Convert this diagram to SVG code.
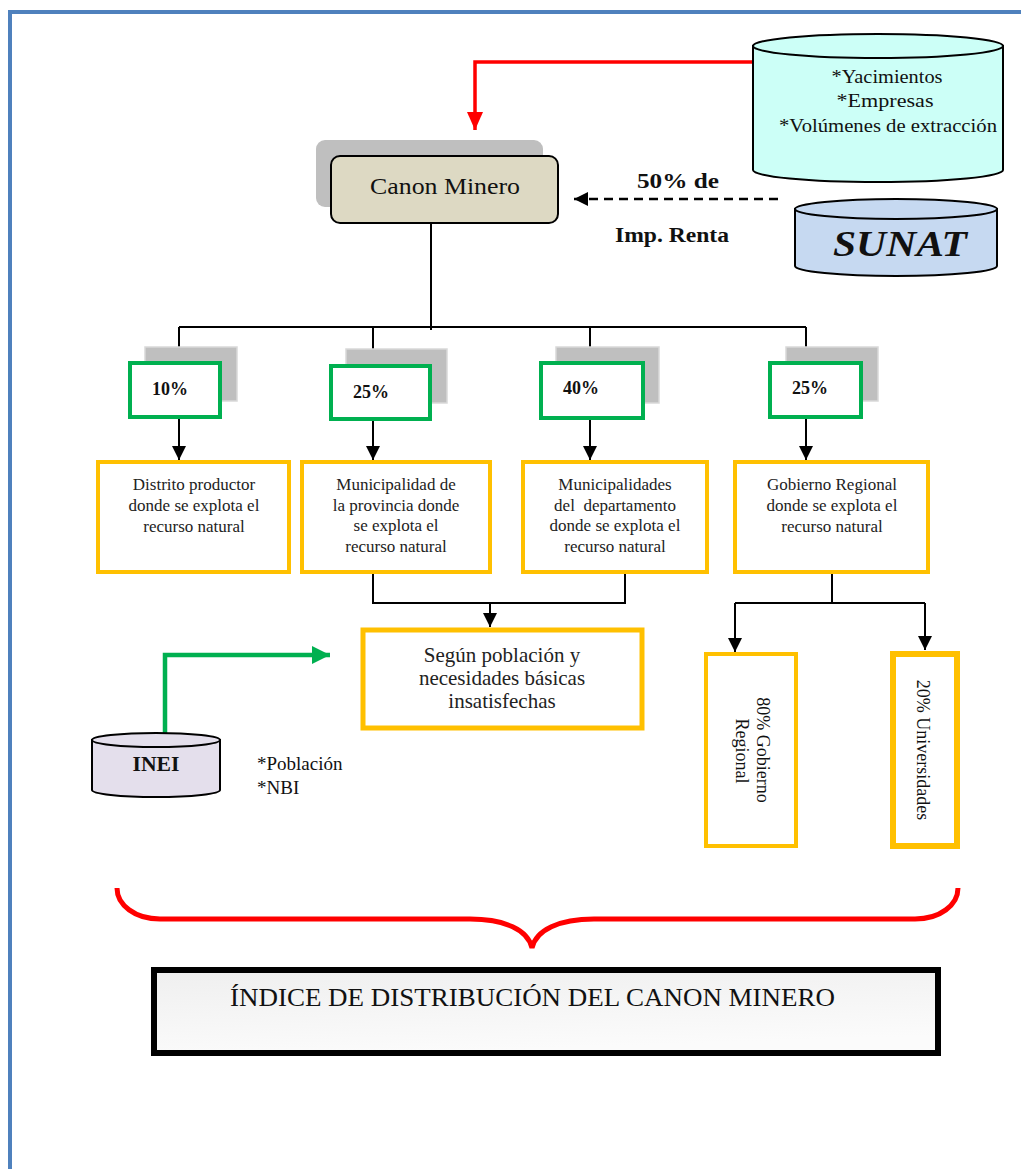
<svg xmlns="http://www.w3.org/2000/svg" width="1021" height="1169" viewBox="0 0 1021 1169">
<style>
.t{font-family:"Liberation Serif","Times New Roman",serif;fill:#111}
.b{font-weight:bold}
.pct{font-family:"Liberation Serif",serif;font-weight:bold;font-size:18px;fill:#111}
.yb{fill:#fff;stroke:#FFC000;stroke-width:4}
.gb{fill:#fff;stroke:#00B050;stroke-width:4}
.sh{fill:#BFBFBF;stroke:#D9D9D9;stroke-width:1.5}
.ln{fill:none;stroke:#000;stroke-width:2}
.lt{font-family:"Liberation Serif",serif;font-size:17px;fill:#222;text-anchor:middle}
.lt2{font-family:"Liberation Serif",serif;font-size:21px;fill:#222;text-anchor:middle}
</style>
<defs>
<marker id="ab" markerUnits="userSpaceOnUse" markerWidth="16" markerHeight="16" refX="14" refY="7" orient="auto"><path d="M0,0 L14,7 L0,14 Z" fill="#000"/></marker>
<marker id="ag" markerUnits="userSpaceOnUse" markerWidth="16" markerHeight="16" refX="14" refY="7" orient="auto"><path d="M0,0 L14,7 L0,14 Z" fill="#404040"/></marker>
<marker id="ar" markerUnits="userSpaceOnUse" markerWidth="20" markerHeight="18" refX="18" refY="8" orient="auto"><path d="M0,0 L18,8 L0,16 Z" fill="#FF0000"/></marker>
<marker id="agr" markerUnits="userSpaceOnUse" markerWidth="20" markerHeight="20" refX="18" refY="9" orient="auto"><path d="M0,0 L18,9 L0,18 Z" fill="#00B050"/></marker>
<marker id="ad" markerUnits="userSpaceOnUse" markerWidth="16" markerHeight="16" refX="14" refY="7" orient="auto"><path d="M0,0 L14,7 L0,14 Z" fill="#000"/></marker>
<linearGradient id="gr" x1="0" y1="0" x2="0.3" y2="1"><stop offset="0" stop-color="#EFEFEF"/><stop offset="1" stop-color="#FBFBFB"/></linearGradient>
</defs>
<rect x="0" y="0" width="1021" height="1169" fill="#fff"/>
<path d="M10,1169 L10,12 L1021,12" fill="none" stroke="#4F81BD" stroke-width="4"/>

<g id="connectors">
<path d="M753,62 L475,62 L475,130" fill="none" stroke="#FF0000" stroke-width="3.5" marker-end="url(#ar)"/>
<path d="M778,199 L574,199" fill="none" stroke="#000" stroke-width="2.5" stroke-dasharray="9,6" marker-end="url(#ad)"/>
<path class="ln" d="M431,223 L431,330"/>
<path class="ln" d="M179,327 L806,327"/>
<path class="ln" d="M179,327 L179,363" marker-end="url(#ag)"/>
<path class="ln" d="M373,327 L373,366" marker-end="url(#ag)"/>
<path class="ln" d="M590,327 L590,363" marker-end="url(#ag)"/>
<path class="ln" d="M806,327 L806,363" marker-end="url(#ag)"/>
<path class="ln" d="M179,417 L179,460" marker-end="url(#ab)"/>
<path class="ln" d="M373,419 L373,460" marker-end="url(#ab)"/>
<path class="ln" d="M590,418 L590,460" marker-end="url(#ab)"/>
<path class="ln" d="M806,417 L806,460" marker-end="url(#ab)"/>
<path class="ln" d="M373,572 L373,603 L625,603 L625,572"/>
<path class="ln" d="M490,603 L490,627" marker-end="url(#ab)"/>
<path class="ln" d="M832,572 L832,603"/>
<path class="ln" d="M735,603 L925,603"/>
<path class="ln" d="M735,603 L735,652" marker-end="url(#ab)"/>
<path class="ln" d="M925,603 L925,650" marker-end="url(#ab)"/>
<path d="M165,733 L165,655 L330,655" fill="none" stroke="#00B050" stroke-width="4.5" marker-end="url(#agr)"/>
</g>

<g id="yacimientos">
<path d="M753,46 L753,170 A125,12 0 0 0 1003,170 L1003,46 Z" fill="#CCFFF7" stroke="#000" stroke-width="2"/>
<ellipse cx="878" cy="46" rx="125" ry="12" fill="#CCFFF7" stroke="#000" stroke-width="2"/>
<text class="t" font-size="19" text-anchor="middle" x="887" y="83" textLength="111" lengthAdjust="spacingAndGlyphs">*Yacimientos</text>
<text class="t" font-size="19" text-anchor="middle" x="885" y="107" textLength="97" lengthAdjust="spacingAndGlyphs">*Empresas</text>
<text class="t" font-size="19" text-anchor="middle" x="888" y="132" textLength="218" lengthAdjust="spacingAndGlyphs">*Volúmenes de extracción</text>
</g>

<g id="canon">
<rect x="316" y="140" width="227" height="67" rx="9" fill="#BFBFBF"/>
<rect x="331" y="156" width="227" height="67" rx="9" fill="#DDD9C3" stroke="#000" stroke-width="2"/>
<text class="t" font-size="24" text-anchor="middle" x="445" y="194" textLength="150" lengthAdjust="spacingAndGlyphs">Canon Minero</text>
</g>

<g id="label-renta">
<text class="t b" font-size="20" text-anchor="middle" x="678" y="188" textLength="82" lengthAdjust="spacingAndGlyphs">50% de</text>
<text class="t b" font-size="20" text-anchor="middle" x="672" y="242" textLength="114" lengthAdjust="spacingAndGlyphs">Imp. Renta</text>
</g>

<g id="sunat">
<path d="M795,209 L795,266 A101,10 0 0 0 997,266 L997,209 Z" fill="#C6D9F1" stroke="#000" stroke-width="2"/>
<ellipse cx="896" cy="209" rx="101" ry="10" fill="#C6D9F1" stroke="#000" stroke-width="2"/>
<text class="t" font-size="36" font-weight="bold" font-style="italic" text-anchor="middle" x="900" y="256" textLength="134" lengthAdjust="spacingAndGlyphs">SUNAT</text>
</g>

<g id="p10">
<rect class="sh" x="145" y="347" width="92" height="54"/>
<rect class="gb" x="130" y="363" width="90" height="54"/>
<text class="pct" x="152" y="395">10%</text>
</g>
<g id="p25a">
<rect class="sh" x="346" y="349" width="101" height="54"/>
<rect class="gb" x="331" y="366" width="99" height="53"/>
<text class="pct" x="353" y="398">25%</text>
</g>
<g id="p40">
<rect class="sh" x="556" y="347" width="103" height="56"/>
<rect class="gb" x="541" y="363" width="102" height="55"/>
<text class="pct" x="563" y="394">40%</text>
</g>
<g id="p25b">
<rect class="sh" x="786" y="347" width="92" height="54"/>
<rect class="gb" x="770" y="363" width="91" height="54"/>
<text class="pct" x="792" y="394">25%</text>
</g>

<g id="distrito">
<rect class="yb" x="98" y="462" width="191" height="110"/>
<text class="lt" x="194" y="490">Distrito productor</text>
<text class="lt" x="194" y="511">donde se explota el</text>
<text class="lt" x="194" y="532">recurso natural</text>
</g>
<g id="provincia">
<rect class="yb" x="302" y="462" width="188" height="110"/>
<text class="lt" x="396" y="490">Municipalidad de</text>
<text class="lt" x="396" y="511">la provincia donde</text>
<text class="lt" x="396" y="531">se explota el</text>
<text class="lt" x="396" y="552">recurso natural</text>
</g>
<g id="departamento">
<rect class="yb" x="523" y="462" width="184" height="110"/>
<text class="lt" x="615" y="490">Municipalidades</text>
<text class="lt" x="615" y="511" xml:space="preserve">del  departamento</text>
<text class="lt" x="615" y="531">donde se explota el</text>
<text class="lt" x="615" y="552">recurso natural</text>
</g>
<g id="gobierno">
<rect class="yb" x="735" y="462" width="193" height="110"/>
<text class="lt" x="832" y="490">Gobierno Regional</text>
<text class="lt" x="832" y="511">donde se explota el</text>
<text class="lt" x="832" y="532">recurso natural</text>
</g>

<g id="segun">
<rect x="363" y="630" width="279" height="98" fill="#fff" stroke="#FFC000" stroke-width="5"/>
<text class="lt2" x="502" y="662">Según población y</text>
<text class="lt2" x="502" y="685">necesidades básicas</text>
<text class="lt2" x="502" y="708">insatisfechas</text>
</g>

<g id="inei">
<path d="M92,740 L92,790 A64,7 0 0 0 220,790 L220,740 Z" fill="#E4DFEC" stroke="#000" stroke-width="2"/>
<ellipse cx="156" cy="740" rx="64" ry="7" fill="#E4DFEC" stroke="#000" stroke-width="2"/>
<text class="t b" font-size="21" text-anchor="middle" x="156" y="771" textLength="47" lengthAdjust="spacingAndGlyphs">INEI</text>
</g>
<g id="inei-label">
<text class="t" font-size="19" x="257" y="770">*Población</text>
<text class="t" font-size="19" x="257" y="794">*NBI</text>
</g>

<g id="gob80">
<rect class="yb" x="706" y="654" width="90" height="192"/>
<text class="t" font-size="18" text-anchor="middle" transform="translate(757,750) rotate(90)">80% Gobierno</text>
<text class="t" font-size="18" text-anchor="middle" transform="translate(736,751) rotate(90)">Regional</text>
</g>
<g id="univ20">
<rect x="893" y="654" width="64" height="192" fill="#fff" stroke="#FFC000" stroke-width="6"/>
<text class="t" font-size="18" text-anchor="middle" transform="translate(917,750) rotate(90)">20% Universidades</text>
</g>

<g id="brace">
<path d="M117,888 C117,905 135,919 160,919 L470,919 C505,919 528,930 532,948 C536,930 559,919 594,919 L915,919 C940,919 958,905 958,888" fill="none" stroke="#FF0000" stroke-width="5"/>
</g>

<g id="indice">
<rect x="154" y="970" width="784" height="83" fill="url(#gr)" stroke="#000" stroke-width="6"/>
<text class="t" font-size="25" x="230" y="1006" textLength="605" lengthAdjust="spacingAndGlyphs">ÍNDICE DE DISTRIBUCIÓN DEL CANON MINERO</text>
</g>
</svg>
